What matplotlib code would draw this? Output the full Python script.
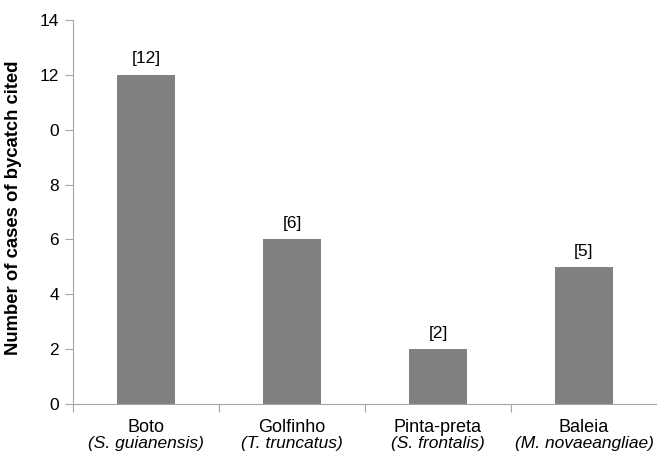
import numpy as np
import matplotlib.pyplot as plt

plt.rcParams['font.family'] = ['Liberation Sans', 'DejaVu Sans']

species = ["Boto", "Golfinho", "Pinta-preta", "Baleia"]
sci_names = ["(S. guianensis)", "(T. truncatus)", "(S. frontalis)", "(M. novaeangliae)"]
cases = [12, 6, 2, 5]
yticks = [0, 2, 4, 6, 8, 10, 12, 14]
ytick_labels = ["0", "2", "4", "6", "8", "0", "12", "14"]

fig = plt.figure(figsize=(6.57, 4.53), dpi=100)
ax = fig.add_axes([0.111, 0.108, 0.889, 0.848])

x = np.arange(len(species))
ax.bar(x, cases, width=0.4, color="#808080", zorder=2)

# counts in brackets above each bar
for xi, v in zip(x, cases):
    ax.annotate("[%d]" % v, (xi, v), xytext=(0, 6), textcoords="offset points",
                ha="center", va="bottom", fontsize=12.5)

ax.set_xlim(-0.5, 3.5)
ax.set_ylim(0, 14)
ax.set_yticks(yticks)
ax.set_yticklabels(ytick_labels, fontsize=12.5)
ax.set_xticks(np.arange(len(species)) - 0.5)
ax.set_xticklabels([])

# common name with scientific name underneath
for xi, name, sci in zip(x, species, sci_names):
    ax.text(xi, -1.02, name, ha="center", va="baseline", fontsize=13)
    ax.text(xi, -1.6, sci, ha="center", va="baseline", fontsize=12.5, style="italic")

ax.set_ylabel("Number of cases of bycatch cited", fontsize=13.3, fontweight="bold")
ax.yaxis.set_label_coords(-0.087, 0.51)

for s in ["top", "right"]:
    ax.spines[s].set_visible(False)
for s in ["left", "bottom"]:
    ax.spines[s].set_color("#a6a6a6")
ax.tick_params(axis="both", colors="#a6a6a6", labelcolor="black", length=6, width=0.8)
ax.tick_params(axis="y", pad=4)

fig.savefig("out.png", dpi=100)
